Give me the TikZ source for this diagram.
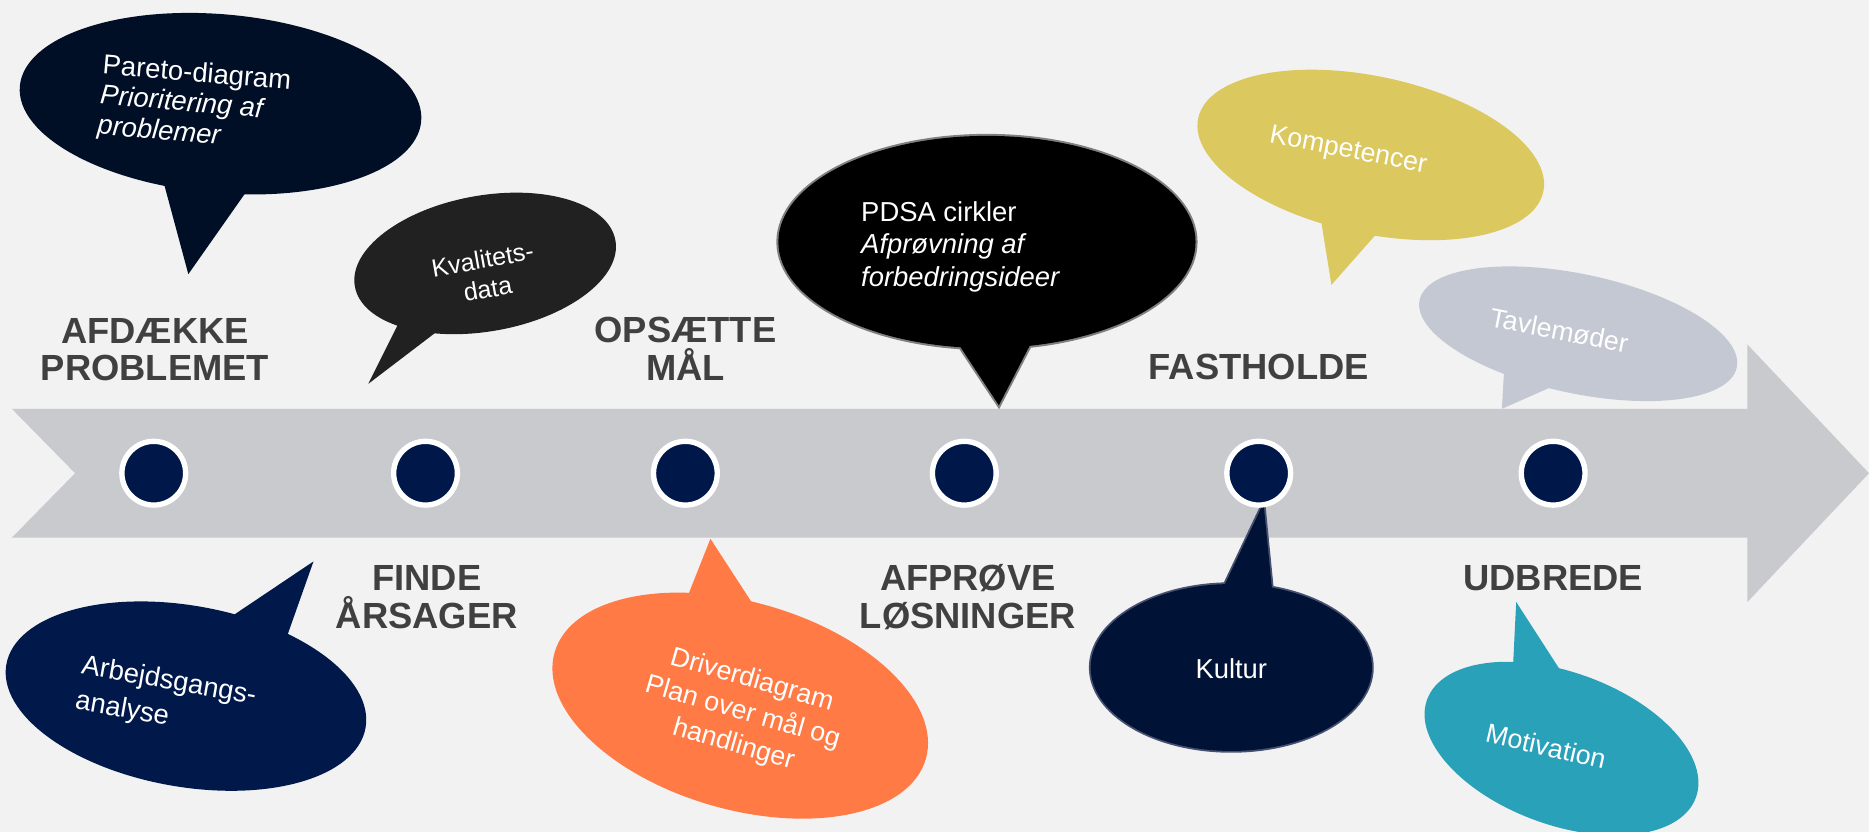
\documentclass[tikz,border=0pt]{standalone}
\usepackage{fontspec}
\setmainfont{Liberation Sans}
\definecolor{bgpage}{HTML}{F2F2F2}
\definecolor{band}{HTML}{C9CACE}
\definecolor{dotnavy}{HTML}{00174A}
\definecolor{labelgray}{HTML}{404040}
\definecolor{cPareto}{HTML}{000F26}
\definecolor{cKval}{HTML}{212121}
\definecolor{cPdsa}{HTML}{000000}
\definecolor{cPdsaLine}{HTML}{7F7F7F}
\definecolor{cKomp}{HTML}{DBC85E}
\definecolor{cTavle}{HTML}{C4C8D2}
\definecolor{cArb}{HTML}{00194A}
\definecolor{cDriver}{HTML}{FF7A45}
\definecolor{cKultur}{HTML}{001236}
\definecolor{cKulturLine}{HTML}{46516F}
\definecolor{cMotiv}{HTML}{28A1B9}
\begin{document}
\begin{tikzpicture}[x=1pt,y=-1pt,
  stage/.style={font=\bfseries\fontsize{30.5}{31}\selectfont, text=labelgray, anchor=base, inner sep=0pt},
  say/.style={text=white, inner sep=0pt},
  dot/.style={circle, fill=dotnavy, draw=white, line width=4.5pt, minimum size=53.5pt, inner sep=0pt}]

% page and its frame
\fill[bgpage] (0,0) rectangle (1568,698);
\useasboundingbox (0,0) rectangle (1568,698);

% timeline arrow
\fill[band] (10,343) -- (1466,343) -- (1466,289) -- (1568,397) -- (1466,505)
  -- (1466,451) -- (10,451) -- (63,397) -- cycle;

% --- speech bubbles above the arrow ---
% Pareto-diagram
\fill[cPareto, rotate around={-5:(185,87)}] (185,87) ellipse [x radius=169pt, y radius=75pt];
\coordinate (tipPareto) at (158,230);
\fill[cPareto] (137,152) -- (tipPareto) -- (210,156) -- cycle;
\node[say, align=left, rotate=-5, font=\fontsize{23}{25.5}\selectfont] (tPareto) at (163,88)
  {Pareto-diagram\\\textit{Prioritering af}\\\textit{problemer}};

% Kvalitetsdata
\fill[cKval, rotate around={10:(407,221)}] (407,221) ellipse [x radius=111pt, y radius=57pt];
\coordinate (tipKval) at (309,322);
\fill[cKval] (336,268) -- (tipKval) -- (372,274) -- cycle;
\node[say, align=center, rotate=10, font=\fontsize{21}{25}\selectfont] (tKval) at (407,230)
  {Kvalitets-\\data};

% PDSA cirkler (outlined bubble)
\coordinate (tipPdsa) at (838,340);
\draw[cPdsaLine, line width=3.4pt] (828,203) ellipse [x radius=175pt, y radius=89pt];
\draw[cPdsaLine, line width=3.4pt] (801,284) -- (tipPdsa) -- (868,282) -- cycle;
\fill[cPdsa] (828,203) ellipse [x radius=175pt, y radius=89pt];
\fill[cPdsa] (801,284) -- (tipPdsa) -- (868,282) -- cycle;
\node[say, align=left, font=\fontsize{23}{27}\selectfont] (tPdsa) at (806,207)
  {PDSA cirkler\\\textit{Afprøvning af}\\\textit{forbedringsideer}};

% Kompetencer
\fill[cKomp, rotate around={-12:(1150,130)}] (1150,130) ellipse [x radius=148pt, y radius=66pt];
\coordinate (tipKomp) at (1117,239);
\fill[cKomp] (1107,177) -- (tipKomp) -- (1162,188) -- cycle;
\node[say, rotate=-11, font=\fontsize{22.5}{26}\selectfont] (tKomp) at (1131,127) {Kompetencer};

% Tavlemøder
\fill[cTavle, rotate around={-12:(1324,280)}] (1324,280) ellipse [x radius=136pt, y radius=50pt];
\coordinate (tipTavle) at (1260,343);
\fill[cTavle] (1262,308) -- (tipTavle) -- (1312,320) -- cycle;
\node[say, rotate=-11, font=\fontsize{22.5}{26}\selectfont] (tTavle) at (1308,277) {Tavlemøder};

% --- speech bubbles below the arrow ---
% Arbejdsgangsanalyse
\fill[cArb, rotate around={-10:(156,584)}] (156,584) ellipse [x radius=153pt, y radius=76pt];
\coordinate (tipArb) at (263,471);
\fill[cArb] (190,520) -- (tipArb) -- (240,536) -- cycle;
\node[say, align=left, rotate=-10, font=\fontsize{23}{30}\selectfont] (tArb) at (139,587)
  {Arbejdsgangs-\\analyse};

% Driverdiagram
\fill[cDriver, rotate around={-16:(621,592)}] (621,592) ellipse [x radius=162pt, y radius=87pt];
\coordinate (tipDriver) at (596,452);
\fill[cDriver] (575,505) -- (tipDriver) -- (635,512) -- cycle;
\node[say, align=center, rotate=-16, font=\fontsize{22.5}{28}\selectfont] (tDriver) at (623,598)
  {Driverdiagram\\Plan over mål og\\handlinger};

% Kultur (outlined bubble)
\coordinate (tipKultur) at (1060,422);
\draw[cKulturLine, line width=3pt] (1033,560) ellipse [x radius=118pt, y radius=70pt];
\draw[cKulturLine, line width=3pt] (1023,500) -- (tipKultur) -- (1068,503) -- cycle;
\fill[cKultur] (1033,560) ellipse [x radius=118pt, y radius=70pt];
\fill[cKultur] (1023,500) -- (tipKultur) -- (1068,503) -- cycle;
\node[say, font=\fontsize{23}{26}\selectfont] (tKultur) at (1033,561) {Kultur};

% Motivation
\fill[cMotiv, rotate around={-20:(1310,628)}] (1310,628) ellipse [x radius=120pt, y radius=64pt];
\coordinate (tipMotiv) at (1272,505);
\fill[cMotiv] (1269,566) -- (tipMotiv) -- (1312,567) -- cycle;
\node[say, rotate=-13, font=\fontsize{22.5}{26}\selectfont] (tMotiv) at (1297,626) {Motivation};

% --- milestones on the arrow ---
\node[dot] (d1) at (129,397) {};
\node[dot] (d2) at (357,397) {};
\node[dot] (d3) at (575,397) {};
\node[dot] (d4) at (809,397) {};
\node[dot] (d5) at (1056,397) {};
\node[dot] (d6) at (1303,397) {};

% --- stage names ---
\node[stage] (s1a) at (130,288) {AFDÆKKE};
\node[stage] (s1b) at (130,319) {PROBLEMET};
\node[stage] (s2a) at (358,495) {FINDE};
\node[stage] (s2b) at (358,527) {ÅRSAGER};
\node[stage] (s3a) at (575,287) {OPSÆTTE};
\node[stage] (s3b) at (575,319) {MÅL};
\node[stage] (s4a) at (812,495) {AFPRØVE};
\node[stage] (s4b) at (812,527) {LØSNINGER};
\node[stage] (s5) at (1056,318) {FASTHOLDE};
\node[stage] (s6) at (1303,495) {UDBREDE};
\end{tikzpicture}
\end{document}
